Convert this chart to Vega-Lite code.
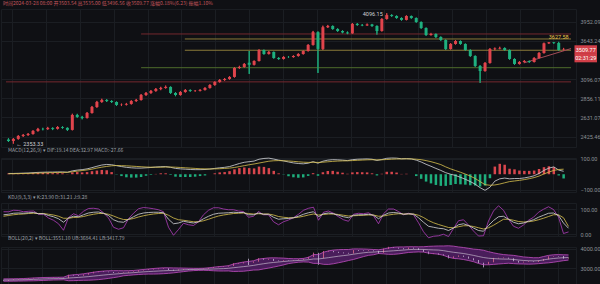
{
"$schema":"https://vega.github.io/schema/vega-lite/v6.json",
"background":"#0f1014",
"padding":0,
"spacing":11,
"bounds":"flush",
"config":{
 "view":{"stroke":"#1a1d22"},
 "axis":{"gridColor":"#1b1e23","labelColor":"#8d9097","labelFont":"Roboto","labelFontSize":5.5,"ticks":false,"domain":false,"title":null,"labelPadding":4},
 "title":{"anchor":"start","font":"Noto Sans CJK SC","fontSize":5,"fontWeight":"normal","color":"#9ea1a8","offset":3,"dx":7}
},
"datasets":{
"hl":[{"i":27,"i2":114.5,"p":3751,"kind":"r"},{"i":35.9,"i2":114.5,"p":3672,"kind":"y"},{"i":35.9,"i2":114.5,"p":3500,"kind":"y"},{"i":27,"i2":114.5,"p":3250,"kind":"g"},{"i":-0.5,"i2":114.5,"p":3060,"kind":"r"}],
"tr":[{"i":104.9,"p":3316},{"i":114.5,"p":3525}],
"tags":[{"i":117.5,"p":3509.77,"t":"3509.77"},{"i":117.5,"p":3387,"t":"02:31:29"}],
"k":[
{"i":0,"o":2395,"h":2408,"l":2370,"c":2380,"f":5,"e":3,"m":4,"k":78,"d":72,"j":90,"b":2400,"u":2460,"w":2340},
{"i":1,"o":2380,"h":2410,"l":2353.33,"c":2401,"f":5,"e":3.5,"m":3,"k":80,"d":75,"j":90,"b":2402,"u":2462,"w":2342},
{"i":2,"o":2401,"h":2440,"l":2394,"c":2431,"f":6,"e":4,"m":4,"k":84,"d":78,"j":96,"b":2405,"u":2466,"w":2344},
{"i":3,"o":2431,"h":2452,"l":2422,"c":2441,"f":7,"e":5,"m":4,"k":85,"d":80,"j":95,"b":2410,"u":2472,"w":2348},
{"i":4,"o":2441,"h":2462,"l":2433,"c":2452,"f":8,"e":5.5,"m":5,"k":84,"d":81,"j":90,"b":2415,"u":2478,"w":2352},
{"i":5,"o":2452,"h":2492,"l":2446,"c":2484,"f":10,"e":6.5,"m":7,"k":86,"d":83,"j":92,"b":2425,"u":2492,"w":2358},
{"i":6,"o":2484,"h":2516,"l":2477,"c":2505,"f":12,"e":7.5,"m":9,"k":87,"d":84,"j":93,"b":2435,"u":2508,"w":2362},
{"i":7,"o":2505,"h":2517,"l":2491,"c":2503,"f":13,"e":8.5,"m":9,"k":82,"d":83,"j":80,"b":2445,"u":2520,"w":2370},
{"i":8,"o":2503,"h":2527,"l":2496,"c":2515,"f":14,"e":9.5,"m":9,"k":82,"d":83,"j":80,"b":2455,"u":2530,"w":2380},
{"i":9,"o":2515,"h":2522,"l":2493,"c":2506,"f":14,"e":10.5,"m":7,"k":75,"d":80,"j":65,"b":2463,"u":2535,"w":2391},
{"i":10,"o":2506,"h":2535,"l":2500,"c":2526,"f":15,"e":11.5,"m":7,"k":70,"d":77,"j":56,"b":2471,"u":2540,"w":2402},
{"i":11,"o":2526,"h":2533,"l":2508,"c":2517,"f":15,"e":12,"m":6,"k":62,"d":72,"j":42,"b":2474,"u":2542,"w":2406},
{"i":12,"o":2517,"h":2521,"l":2484,"c":2495,"f":13,"e":12.5,"m":1,"k":48,"d":64,"j":16,"b":2481,"u":2548,"w":2414},
{"i":13,"o":2495,"h":2672,"l":2490,"c":2658,"f":22,"e":16,"m":12,"k":65,"d":64,"j":67,"b":2503,"u":2640,"w":2366},
{"i":14,"o":2658,"h":2671,"l":2627,"c":2636,"f":27,"e":20,"m":14,"k":72,"d":67,"j":82,"b":2520,"u":2670,"w":2370},
{"i":15,"o":2636,"h":2648,"l":2610,"c":2625,"f":30,"e":24,"m":12,"k":70,"d":68,"j":74,"b":2535,"u":2690,"w":2380},
{"i":16,"o":2625,"h":2692,"l":2619,"c":2681,"f":35,"e":28,"m":14,"k":78,"d":71,"j":92,"b":2554,"u":2720,"w":2388},
{"i":17,"o":2681,"h":2762,"l":2675,"c":2750,"f":43,"e":33,"m":20,"k":85,"d":76,"j":103,"b":2576,"u":2760,"w":2392},
{"i":18,"o":2750,"h":2822,"l":2741,"c":2809,"f":52,"e":40,"m":24,"k":88,"d":80,"j":104,"b":2602,"u":2800,"w":2404},
{"i":19,"o":2809,"h":2848,"l":2800,"c":2833,"f":60,"e":46,"m":28,"k":89,"d":83,"j":101,"b":2629,"u":2835,"w":2423},
{"i":20,"o":2833,"h":2843,"l":2809,"c":2821,"f":64,"e":51,"m":26,"k":84,"d":83,"j":86,"b":2655,"u":2860,"w":2450},
{"i":21,"o":2821,"h":2830,"l":2797,"c":2809,"f":62,"e":55,"m":14,"k":75,"d":80,"j":65,"b":2680,"u":2875,"w":2485},
{"i":22,"o":2809,"h":2815,"l":2763,"c":2774,"f":56,"e":57,"m":-2,"k":58,"d":73,"j":28,"b":2701,"u":2880,"w":2522},
{"i":23,"o":2774,"h":2790,"l":2761,"c":2777,"f":50,"e":56,"m":-12,"k":50,"d":65,"j":20,"b":2722,"u":2880,"w":2564},
{"i":24,"o":2777,"h":2798,"l":2769,"c":2786,"f":45,"e":55,"m":-20,"k":48,"d":59,"j":26,"b":2747,"u":2875,"w":2619},
{"i":25,"o":2786,"h":2830,"l":2779,"c":2821,"f":42,"e":53,"m":-22,"k":60,"d":59,"j":62,"b":2760,"u":2880,"w":2640},
{"i":26,"o":2821,"h":2846,"l":2811,"c":2833,"f":40,"e":51,"m":-22,"k":70,"d":63,"j":84,"b":2777,"u":2890,"w":2664},
{"i":27,"o":2833,"h":2906,"l":2827,"c":2894,"f":40,"e":49,"m":-18,"k":80,"d":69,"j":102,"b":2799,"u":2915,"w":2683},
{"i":28,"o":2894,"h":2931,"l":2884,"c":2919,"f":42,"e":47,"m":-10,"k":85,"d":74,"j":107,"b":2819,"u":2940,"w":2698},
{"i":29,"o":2919,"h":2956,"l":2909,"c":2944,"f":44,"e":46,"m":-4,"k":87,"d":78,"j":105,"b":2835,"u":2965,"w":2705},
{"i":30,"o":2944,"h":2981,"l":2935,"c":2969,"f":47,"e":46,"m":2,"k":88,"d":81,"j":102,"b":2848,"u":2990,"w":2706},
{"i":31,"o":2969,"h":2996,"l":2954,"c":2982,"f":49,"e":46,"m":6,"k":88,"d":83,"j":98,"b":2861,"u":3010,"w":2712},
{"i":32,"o":2982,"h":3012,"l":2974,"c":2995,"f":50,"e":47,"m":6,"k":86,"d":84,"j":90,"b":2875,"u":3025,"w":2725},
{"i":33,"o":2995,"h":3001,"l":2908,"c":2919,"f":45,"e":47,"m":-4,"k":60,"d":76,"j":28,"b":2884,"u":3025,"w":2743},
{"i":34,"o":2919,"h":2929,"l":2879,"c":2894,"f":38,"e":46,"m":-16,"k":42,"d":65,"j":-4,"b":2894,"u":3020,"w":2768},
{"i":35,"o":2894,"h":2941,"l":2887,"c":2931,"f":35,"e":44,"m":-18,"k":45,"d":58,"j":19,"b":2907,"u":3015,"w":2799},
{"i":36,"o":2931,"h":2967,"l":2924,"c":2956,"f":33,"e":42,"m":-18,"k":52,"d":56,"j":44,"b":2921,"u":3012,"w":2830},
{"i":37,"o":2956,"h":2963,"l":2934,"c":2944,"f":31,"e":40,"m":-18,"k":48,"d":53,"j":38,"b":2932,"u":3005,"w":2859},
{"i":38,"o":2944,"h":2956,"l":2935,"c":2946,"f":30,"e":38,"m":-16,"k":45,"d":50,"j":35,"b":2941,"u":3000,"w":2882},
{"i":39,"o":2946,"h":2966,"l":2939,"c":2957,"f":30,"e":36,"m":-12,"k":50,"d":50,"j":50,"b":2946,"u":2998,"w":2894},
{"i":40,"o":2957,"h":2991,"l":2950,"c":2982,"f":31,"e":35,"m":-8,"k":62,"d":54,"j":78,"b":2952,"u":3005,"w":2899},
{"i":41,"o":2982,"h":3029,"l":2975,"c":3020,"f":34,"e":34,"m":0,"k":72,"d":60,"j":96,"b":2958,"u":3025,"w":2891},
{"i":42,"o":3020,"h":3069,"l":3011,"c":3059,"f":38,"e":35,"m":6,"k":80,"d":67,"j":106,"b":2965,"u":3055,"w":2875},
{"i":43,"o":3059,"h":3096,"l":3050,"c":3085,"f":42,"e":36,"m":12,"k":84,"d":73,"j":106,"b":2974,"u":3085,"w":2863},
{"i":44,"o":3085,"h":3111,"l":3074,"c":3098,"f":45,"e":38,"m":14,"k":85,"d":77,"j":101,"b":2983,"u":3105,"w":2861},
{"i":45,"o":3098,"h":3136,"l":3089,"c":3125,"f":50,"e":40,"m":20,"k":86,"d":80,"j":98,"b":3000,"u":3135,"w":2865},
{"i":46,"o":3125,"h":3259,"l":3117,"c":3246,"f":60,"e":44,"m":32,"k":88,"d":83,"j":98,"b":3029,"u":3220,"w":2838},
{"i":47,"o":3246,"h":3276,"l":3234,"c":3260,"f":70,"e":50,"m":40,"k":87,"d":84,"j":93,"b":3057,"u":3270,"w":2844},
{"i":48,"o":3260,"h":3315,"l":3250,"c":3302,"f":78,"e":56,"m":44,"k":87,"d":85,"j":91,"b":3085,"u":3320,"w":2850},
{"i":49,"o":3320,"h":3489,"l":3165,"c":3290,"f":82,"e":62,"m":40,"k":78,"d":83,"j":68,"b":3115,"u":3350,"w":2880},
{"i":50,"o":3290,"h":3352,"l":3282,"c":3344,"f":86,"e":67,"m":38,"k":78,"d":81,"j":72,"b":3148,"u":3385,"w":2911},
{"i":51,"o":3344,"h":3515,"l":3338,"c":3504,"f":98,"e":73,"m":50,"k":85,"d":82,"j":91,"b":3194,"u":3470,"w":2918},
{"i":52,"o":3504,"h":3510,"l":3436,"c":3445,"f":103,"e":79,"m":48,"k":80,"d":81,"j":78,"b":3233,"u":3500,"w":2966},
{"i":53,"o":3445,"h":3488,"l":3438,"c":3475,"f":105,"e":85,"m":40,"k":80,"d":81,"j":78,"b":3270,"u":3530,"w":3010},
{"i":54,"o":3475,"h":3480,"l":3378,"c":3387,"f":99,"e":88,"m":22,"k":68,"d":77,"j":50,"b":3298,"u":3535,"w":3061},
{"i":55,"o":3387,"h":3398,"l":3362,"c":3373,"f":92,"e":89,"m":6,"k":60,"d":71,"j":38,"b":3322,"u":3530,"w":3114},
{"i":56,"o":3373,"h":3412,"l":3366,"c":3402,"f":87,"e":88,"m":-2,"k":62,"d":68,"j":50,"b":3347,"u":3520,"w":3174},
{"i":57,"o":3402,"h":3414,"l":3390,"c":3400,"f":80,"e":86.7,"m":-13,"k":63,"d":66,"j":57,"b":3370,"u":3500,"w":3240},
{"i":58,"o":3400,"h":3425,"l":3393,"c":3416,"f":74,"e":84.2,"m":-20,"k":66,"d":66,"j":66,"b":3384,"u":3490,"w":3278},
{"i":59,"o":3416,"h":3455,"l":3408,"c":3445,"f":70,"e":81.3,"m":-23,"k":72,"d":68,"j":80,"b":3400,"u":3490,"w":3310},
{"i":60,"o":3445,"h":3498,"l":3437,"c":3489,"f":68,"e":78.7,"m":-21,"k":80,"d":72,"j":96,"b":3415,"u":3505,"w":3325},
{"i":61,"o":3489,"h":3592,"l":3481,"c":3580,"f":72,"e":77.3,"m":-11,"k":86,"d":77,"j":104,"b":3438,"u":3560,"w":3316},
{"i":62,"o":3580,"h":3800,"l":3572,"c":3780,"f":82,"e":78.3,"m":7,"k":90,"d":81,"j":108,"b":3475,"u":3700,"w":3250},
{"i":63,"o":3780,"h":3792,"l":3178,"c":3520,"f":72,"e":77,"m":-10,"k":70,"d":77,"j":56,"b":3476,"u":3700,"w":3252},
{"i":64,"o":3520,"h":3885,"l":3505,"c":3860,"f":85,"e":78.6,"m":13,"k":82,"d":79,"j":88,"b":3511,"u":3820,"w":3202},
{"i":65,"o":3860,"h":3898,"l":3848,"c":3880,"f":92,"e":81.3,"m":21,"k":85,"d":81,"j":93,"b":3544,"u":3890,"w":3198},
{"i":66,"o":3880,"h":3889,"l":3820,"c":3831,"f":95,"e":84,"m":22,"k":82,"d":81,"j":84,"b":3581,"u":3930,"w":3232},
{"i":67,"o":3831,"h":3842,"l":3786,"c":3799,"f":94,"e":86,"m":16,"k":76,"d":79,"j":70,"b":3617,"u":3950,"w":3284},
{"i":68,"o":3799,"h":3810,"l":3762,"c":3775,"f":92,"e":87.2,"m":10,"k":70,"d":76,"j":58,"b":3648,"u":3960,"w":3336},
{"i":69,"o":3775,"h":3790,"l":3748,"c":3760,"f":89,"e":87.6,"m":3,"k":66,"d":73,"j":52,"b":3678,"u":3960,"w":3396},
{"i":70,"o":3760,"h":3930,"l":3754,"c":3915,"f":95,"e":89.1,"m":12,"k":76,"d":74,"j":80,"b":3720,"u":3990,"w":3450},
{"i":71,"o":3915,"h":3928,"l":3885,"c":3897,"f":98,"e":90.8,"m":14,"k":78,"d":75,"j":84,"b":3757,"u":3990,"w":3524},
{"i":72,"o":3897,"h":3912,"l":3878,"c":3890,"f":99,"e":92.5,"m":13,"k":78,"d":76,"j":82,"b":3791,"u":3985,"w":3597},
{"i":73,"o":3890,"h":3920,"l":3882,"c":3905,"f":100,"e":94,"m":12,"k":80,"d":77,"j":86,"b":3818,"u":3975,"w":3661},
{"i":74,"o":3905,"h":3915,"l":3868,"c":3880,"f":98,"e":94.8,"m":6,"k":76,"d":77,"j":74,"b":3826,"u":3960,"w":3692},
{"i":75,"o":3880,"h":3890,"l":3740,"c":3799,"f":90,"e":93.8,"m":-8,"k":62,"d":72,"j":42,"b":3849,"u":3945,"w":3753},
{"i":76,"o":3799,"h":4010,"l":3790,"c":3998,"f":96,"e":94.3,"m":3,"k":76,"d":73,"j":82,"b":3861,"u":3985,"w":3737},
{"i":77,"o":3998,"h":4096.15,"l":3988,"c":4065,"f":104,"e":96.2,"m":16,"k":85,"d":77,"j":101,"b":3876,"u":4040,"w":3712},
{"i":78,"o":4065,"h":4078,"l":4035,"c":4049,"f":106,"e":98.2,"m":16,"k":87,"d":80,"j":101,"b":3894,"u":4075,"w":3713},
{"i":79,"o":4049,"h":4058,"l":4003,"c":4015,"f":105,"e":99.5,"m":11,"k":85,"d":82,"j":91,"b":3912,"u":4090,"w":3734},
{"i":80,"o":4015,"h":4024,"l":3970,"c":3982,"f":101,"e":99.8,"m":2,"k":80,"d":81,"j":78,"b":3930,"u":4090,"w":3770},
{"i":81,"o":3982,"h":4060,"l":3975,"c":4049,"f":102,"e":100.3,"m":3,"k":82,"d":81,"j":84,"b":3954,"u":4100,"w":3808},
{"i":82,"o":4049,"h":4055,"l":4003,"c":4015,"f":100,"e":100,"m":0,"k":80,"d":81,"j":78,"b":3962,"u":4100,"w":3824},
{"i":83,"o":4015,"h":4022,"l":3935,"c":3947,"f":92,"e":98,"m":-12,"k":66,"d":76,"j":46,"b":3966,"u":4095,"w":3837},
{"i":84,"o":3947,"h":3955,"l":3835,"c":3847,"f":80,"e":95,"m":-30,"k":48,"d":67,"j":10,"b":3963,"u":4100,"w":3826},
{"i":85,"o":3847,"h":3856,"l":3722,"c":3735,"f":65,"e":89,"m":-48,"k":32,"d":55,"j":-14,"b":3948,"u":4120,"w":3776},
{"i":86,"o":3735,"h":3768,"l":3726,"c":3751,"f":52,"e":82,"m":-60,"k":28,"d":46,"j":-8,"b":3938,"u":4130,"w":3746},
{"i":87,"o":3751,"h":3760,"l":3690,"c":3703,"f":38,"e":73,"m":-70,"k":24,"d":39,"j":-6,"b":3930,"u":4140,"w":3720},
{"i":88,"o":3703,"h":3712,"l":3644,"c":3656,"f":25,"e":63,"m":-76,"k":22,"d":33,"j":0,"b":3901,"u":4140,"w":3662},
{"i":89,"o":3656,"h":3664,"l":3505,"c":3519,"f":10,"e":48,"m":-76,"k":15,"d":27,"j":-9,"b":3856,"u":4150,"w":3562},
{"i":90,"o":3519,"h":3608,"l":3510,"c":3595,"f":0,"e":35,"m":-70,"k":25,"d":26,"j":23,"b":3818,"u":4130,"w":3506},
{"i":91,"o":3595,"h":3655,"l":3586,"c":3641,"f":-8,"e":24,"m":-64,"k":38,"d":30,"j":54,"b":3787,"u":4090,"w":3484},
{"i":92,"o":3641,"h":3648,"l":3584,"c":3595,"f":-20,"e":13,"m":-66,"k":42,"d":34,"j":58,"b":3754,"u":4060,"w":3448},
{"i":93,"o":3595,"h":3602,"l":3492,"c":3504,"f":-33,"e":1,"m":-68,"k":35,"d":34,"j":37,"b":3709,"u":4020,"w":3398},
{"i":94,"o":3504,"h":3512,"l":3404,"c":3416,"f":-48,"e":-12,"m":-72,"k":25,"d":31,"j":13,"b":3659,"u":3980,"w":3338},
{"i":95,"o":3416,"h":3424,"l":3262,"c":3274,"f":-65,"e":-28,"m":-74,"k":15,"d":26,"j":-7,"b":3603,"u":3960,"w":3246},
{"i":96,"o":3274,"h":3285,"l":3046,"c":3205,"f":-88,"e":-48,"m":-80,"k":12,"d":21,"j":-6,"b":3550,"u":3920,"w":3180},
{"i":97,"o":3205,"h":3328,"l":3196,"c":3316,"f":-105,"e":-68,"m":-74,"k":35,"d":26,"j":53,"b":3515,"u":3850,"w":3180},
{"i":98,"o":3316,"h":3532,"l":3308,"c":3519,"f":-85,"e":-72,"m":-26,"k":55,"d":36,"j":93,"b":3495,"u":3790,"w":3200},
{"i":99,"o":3519,"h":3540,"l":3500,"c":3526,"f":-45,"e":-70,"m":50,"k":70,"d":48,"j":114,"b":3480,"u":3740,"w":3220},
{"i":100,"o":3526,"h":3552,"l":3515,"c":3534,"f":-30,"e":-64,"m":68,"k":72,"d":60,"j":96,"b":3470,"u":3700,"w":3240},
{"i":101,"o":3534,"h":3542,"l":3492,"c":3504,"f":-25,"e":-56,"m":62,"k":60,"d":60,"j":60,"b":3469,"u":3680,"w":3258},
{"i":102,"o":3504,"h":3510,"l":3362,"c":3373,"f":-30,"e":-48,"m":36,"k":48,"d":56,"j":32,"b":3450,"u":3660,"w":3240},
{"i":103,"o":3373,"h":3381,"l":3290,"c":3302,"f":-28,"e":-44,"m":32,"k":42,"d":51,"j":24,"b":3422,"u":3620,"w":3224},
{"i":104,"o":3302,"h":3342,"l":3295,"c":3330,"f":-28,"e":-40,"m":24,"k":45,"d":49,"j":37,"b":3400,"u":3580,"w":3220},
{"i":105,"o":3330,"h":3356,"l":3320,"c":3344,"f":-24,"e":-35,"m":22,"k":52,"d":50,"j":56,"b":3386,"u":3560,"w":3212},
{"i":106,"o":3344,"h":3350,"l":3318,"c":3330,"f":-18,"e":-29,"m":22,"k":58,"d":53,"j":68,"b":3379,"u":3540,"w":3218},
{"i":107,"o":3330,"h":3398,"l":3324,"c":3387,"f":-10,"e":-22,"m":24,"k":68,"d":58,"j":88,"b":3389,"u":3540,"w":3238},
{"i":108,"o":3387,"h":3472,"l":3380,"c":3460,"f":5,"e":-12,"m":34,"k":76,"d":64,"j":100,"b":3430,"u":3600,"w":3260},
{"i":109,"o":3460,"h":3615,"l":3452,"c":3605,"f":25,"e":2,"m":46,"k":84,"d":71,"j":110,"b":3470,"u":3660,"w":3280},
{"i":110,"o":3605,"h":3625,"l":3596,"c":3620,"f":40,"e":14,"m":52,"k":85,"d":78,"j":99,"b":3500,"u":3690,"w":3310},
{"i":111,"o":3620,"h":3626,"l":3598,"c":3610,"f":48,"e":25,"m":46,"k":75,"d":78,"j":69,"b":3525,"u":3700,"w":3350},
{"i":112,"o":3610,"h":3627.58,"l":3494,"c":3503.54,"f":27,"e":31,"m":-8,"k":45,"d":66,"j":3,"b":3540,"u":3690,"w":3390},
{"i":113,"o":3503.54,"h":3535,"l":3496.56,"c":3509.77,"f":19.14,"e":32.97,"m":-27.66,"k":23.9,"d":31.21,"j":9.28,"b":3551.1,"u":3684.41,"w":3417.79}
]},
"vconcat":[
{
 "title":{"text":"时间2024-03-28 08:00 开3503.54 高3535.00 低3496.56 收3509.77 涨幅0.18%(6.23) 振幅1.10%","color":"#c4565c","dx":2},
 "width":575,"height":138,
 "encoding":{"x":{"field":"i","type":"quantitative","scale":{"domain":[-0.5,114.5],"nice":false,"zero":false},"axis":{"values":[0.82,7.7,14.58,21.46,28.34,35.22,42.1,48.98,55.86,62.74,69.62,76.5,83.38,90.26,97.14,104.02,110.9],"labels":false,"grid":true}}},
 "layer":[
  {"data":{"name":"k"},"mark":{"type":"rule","strokeWidth":1},"encoding":{"y":{"field":"l","type":"quantitative","scale":{"type":"log","domain":[2320,4171],"nice":false,"zero":false},"axis":{"orient":"right","values":[2425.46,2631.07,2856.11,3096.07,3643.24,3952.09],"format":".2f","grid":true}},"y2":{"field":"h"},"color":{"condition":{"test":"datum.c >= datum.o","value":"#e0444c"},"value":"#1eb07f"}}},
  {"data":{"name":"hl"},"mark":{"type":"rule","strokeWidth":1},"encoding":{"x2":{"field":"i2"},"y":{"field":"p","type":"quantitative","scale":{"type":"log","domain":[2320,4171],"nice":false,"zero":false}},"color":{"field":"kind","type":"nominal","scale":{"domain":["r","y","g"],"range":["#74282e","#8a7a38","#4e6a2c"]},"legend":null}}},
  {"data":{"name":"tr"},"mark":{"type":"line","color":"#a34b57","strokeWidth":1},"encoding":{"y":{"field":"p","type":"quantitative","scale":{"type":"log","domain":[2320,4171],"nice":false,"zero":false}}}},
  {"data":{"name":"k"},"mark":{"type":"rule","strokeWidth":1},"encoding":{"y":{"field":"l","type":"quantitative","scale":{"type":"log","domain":[2320,4171],"nice":false,"zero":false}},"y2":{"field":"h"},"color":{"condition":{"test":"datum.c >= datum.o","value":"#e0444c"},"value":"#1eb07f"}}},
  {"data":{"name":"k"},"mark":{"type":"bar","width":3},"encoding":{"y":{"field":"o","type":"quantitative","scale":{"type":"log","domain":[2320,4171],"nice":false,"zero":false}},"y2":{"field":"c"},"color":{"condition":{"test":"datum.c >= datum.o","value":"#e0444c"},"value":"#1eb07f"}}},
  {"data":{"values":[{"i":77,"p":4096.15,"t":"4096.15"}]},"mark":{"type":"text","align":"right","dx":-4,"dy":1,"fontSize":5.5,"color":"#d0d2d6","font":"Roboto"},"encoding":{"y":{"field":"p","type":"quantitative","scale":{"type":"log","domain":[2320,4171],"nice":false,"zero":false}},"text":{"field":"t"}}},
  {"data":{"values":[{"i":112,"p":3627.58,"t":"3627.58"}]},"mark":{"type":"text","align":"center","dy":-5,"fontSize":5.5,"color":"#e6c24a","font":"Roboto"},"encoding":{"y":{"field":"p","type":"quantitative","scale":{"type":"log","domain":[2320,4171],"nice":false,"zero":false}},"text":{"field":"t"}}},
  {"data":{"values":[{"i":1,"p":2353.33,"t":"← 2353.33"}]},"mark":{"type":"text","align":"left","dx":3,"fontSize":5.5,"color":"#d0d2d6","font":"Roboto"},"encoding":{"y":{"field":"p","type":"quantitative","scale":{"type":"log","domain":[2320,4171],"nice":false,"zero":false}},"text":{"field":"t"}}},
  {"data":{"name":"tags"},"mark":{"type":"point","shape":"M-1.3,-0.5H1.3V0.5H-1.3Z","filled":true,"size":300,"color":"#d23f48","opacity":1},"encoding":{"y":{"field":"p","type":"quantitative","scale":{"type":"log","domain":[2320,4171],"nice":false,"zero":false}}}},
  {"data":{"name":"tags"},"mark":{"type":"text","fontSize":5.5,"color":"#ffffff","font":"Roboto"},"encoding":{"y":{"field":"p","type":"quantitative","scale":{"type":"log","domain":[2320,4171],"nice":false,"zero":false}},"text":{"field":"t"}}}
 ]
},
{
 "title":{"text":"MACD(12,26,9)  ▾  DIF:19.14 DEA:32.97 MACD:-27.66"},
 "width":575,"height":34,
 "data":{"name":"k"},
 "encoding":{"x":{"field":"i","type":"quantitative","scale":{"domain":[-0.5,114.5],"nice":false,"zero":false},"axis":{"values":[0.82,7.7,14.58,21.46,28.34,35.22,42.1,48.98,55.86,62.74,69.62,76.5,83.38,90.26,97.14,104.02,110.9],"labels":false,"grid":true}}},
 "layer":[
  {"mark":{"type":"bar","width":2.5},"encoding":{"y":{"field":"m","type":"quantitative","scale":{"domain":[-116,106],"nice":false,"zero":false},"axis":{"orient":"right","values":[-100,0,100],"format":".2f","grid":true}},"color":{"condition":{"test":"datum.m >= 0","value":"#d8464d"},"value":"#1eae7c"}}},
  {"mark":{"type":"line","color":"#d6d7da","strokeWidth":0.8},"encoding":{"y":{"field":"f","type":"quantitative","scale":{"domain":[-116,106],"nice":false,"zero":false}}}},
  {"mark":{"type":"line","color":"#d9c24e","strokeWidth":0.8},"encoding":{"y":{"field":"e","type":"quantitative","scale":{"domain":[-116,106],"nice":false,"zero":false}}}}
 ]
},
{
 "title":{"text":"KDJ(9,3,3)  ▾  K:23.90 D:31.21 J:9.28"},
 "width":575,"height":33,
 "data":{"name":"k"},
 "encoding":{"x":{"field":"i","type":"quantitative","scale":{"domain":[-0.5,114.5],"nice":false,"zero":false},"axis":{"values":[0.82,7.7,14.58,21.46,28.34,35.22,42.1,48.98,55.86,62.74,69.62,76.5,83.38,90.26,97.14,104.02,110.9],"labels":false,"grid":true}}},
 "layer":[
  {"mark":{"type":"line","color":"#b03dbb","strokeWidth":0.8},"encoding":{"y":{"field":"j","type":"quantitative","scale":{"domain":[-7,125],"nice":false,"zero":false},"axis":{"orient":"right","values":[0,50,100],"format":".2f","grid":true}}}},
  {"data":{"values":[{"v":80},{"v":50},{"v":20}]},"mark":{"type":"rule","strokeDash":[3,3],"color":"#4a4d54","strokeWidth":0.8},"encoding":{"x":{"datum":-0.5,"type":"quantitative"},"x2":{"datum":114.5},"y":{"field":"v","type":"quantitative","scale":{"domain":[-7,125],"nice":false,"zero":false}}}},
  {"mark":{"type":"line","color":"#d9c24e","strokeWidth":0.8},"encoding":{"y":{"field":"d","type":"quantitative","scale":{"domain":[-7,125],"nice":false,"zero":false}}}},
  {"mark":{"type":"line","color":"#d6d7da","strokeWidth":0.8},"encoding":{"y":{"field":"k","type":"quantitative","scale":{"domain":[-7,125],"nice":false,"zero":false}}}}
 ]
},
{
 "title":{"text":"BOLL(20,2)  ▾  BOLL:3551.10 UB:3684.41 LB:3417.79"},
 "width":575,"height":38,
 "data":{"name":"k"},
 "encoding":{"x":{"field":"i","type":"quantitative","scale":{"domain":[-0.5,114.5],"nice":false,"zero":false},"axis":{"values":[0.82,7.7,14.58,21.46,28.34,35.22,42.1,48.98,55.86,62.74,69.62,76.5,83.38,90.26,97.14,104.02,110.9],"labels":false,"grid":true}}},
 "layer":[
  {"mark":{"type":"area","color":"#4d1f5f","opacity":0.95},"encoding":{"y":{"field":"w","type":"quantitative","scale":{"domain":[2148,4087],"nice":false,"zero":false},"axis":{"orient":"right","values":[3000,4000],"format":".2f","grid":true}},"y2":{"field":"u"}}},
  {"mark":{"type":"rule","strokeWidth":0.8},"encoding":{"y":{"field":"l","type":"quantitative","scale":{"domain":[2148,4087],"nice":false,"zero":false}},"y2":{"field":"h"},"color":{"condition":{"test":"datum.c >= datum.o","value":"#e06a8c"},"value":"#c9b8d8"}}},
  {"mark":{"type":"line","color":"#c04fc0","strokeWidth":0.8},"encoding":{"y":{"field":"u","type":"quantitative","scale":{"domain":[2148,4087],"nice":false,"zero":false}}}},
  {"mark":{"type":"line","color":"#c04fc0","strokeWidth":0.8},"encoding":{"y":{"field":"w","type":"quantitative","scale":{"domain":[2148,4087],"nice":false,"zero":false}}}},
  {"mark":{"type":"line","color":"#d7d0dc","strokeWidth":0.6},"encoding":{"y":{"field":"b","type":"quantitative","scale":{"domain":[2148,4087],"nice":false,"zero":false}}}}
 ]
}
]
}
